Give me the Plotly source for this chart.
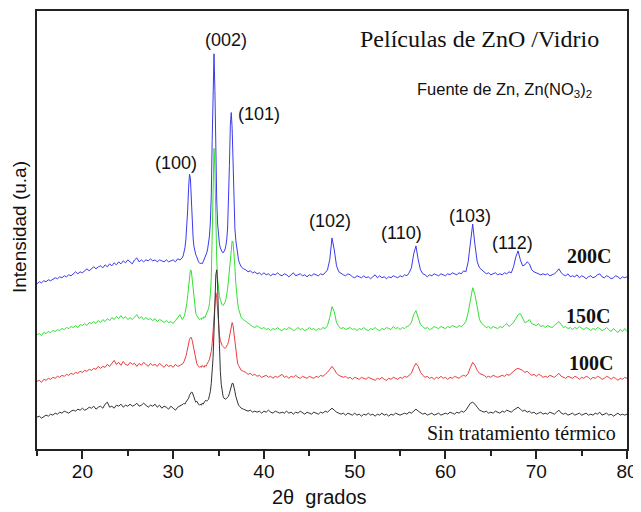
import numpy as np
import plotly.graph_objects as go

# x grid (2-theta, degrees): coarse / fine (main peaks) / coarse
x_a = [round(15 + 0.25 * i, 2) for i in range(65)]
x_b = [round(31.1 + 0.1 * i, 2) for i in range(65)]
x_c = [round(37.75 + 0.25 * i, 2) for i in range(170)]
two_theta = x_a + x_b + x_c

# Intensities (arbitrary units, stacked)
black_a = [32,33,31,33, 34,33,35,34, 36,35,37,36, 38,37,36,38, 39,38,40,39, 41,39,40,42, 41,43,40,42, 43,41,45,47,
           42,43,41,44, 43,45,42,44, 43,45,43,44, 46,43,44,46, 44,42,44,43, 45,42,44,41, 43,42,40,43, 41,39,42,43, 44]
black_b = [45,46,45,47,48,49,51,54,56, 57,57,55,52,49,47,48,46,45,44, 45,44,46,45,47,48,49,48,49,50,
           54,58,66,76,92,118,150,175,180,165, 130,98,78,65,57,53,51,50,50,51, 52,53,56,60,64,66,66,63,58,53,
           49,46,44,43,42,41]
black_c = [40,
           39,38,39,37, 38,37,38,36, 38,37,39,37, 36,38,37,36, 37,36,38,36, 37,35,37,36, 38,36,35,37, 36,35,37,36,
           35,37,36,38, 37,39,41,39, 37,36,35,36, 34,36,35,34, 36,34,35,33, 35,34,36,34, 35,33,35,34, 36,34,35,33,
           35,34,36,35, 34,35,36,35, 37,36,38,40, 38,36,35,36, 34,35,36,34, 35,36,34,35, 36,35,37,36, 35,37,36,38,
           37,39,42,46, 47,45,42,39, 38,37,38,36, 37,36,38,37, 36,38,37,39, 38,37,39,41, 42,40,38,39, 37,38,36,37,
           35,36,37,35, 36,35,37,36, 35,37,39,36, 35,36,34,35, 36,34,35,36, 34,35,36,34, 35,34,36,35, 37,34,35,36,
           34,35,33,35, 36,34,35,34,
           35]

red_a = [68,69,67,70, 69,71,70,72, 71,73,72,74, 73,75,74,76, 75,77,76,78, 77,79,78,80, 79,81,80,83, 81,83,82,85,
         83,86,89,85, 87,84,88,85, 84,87,85,86, 83,86,84,87, 85,83,86,84, 85,83,86,84, 82,85,83,84, 82,85,83,84, 85]
red_b = [86,88,90,93,97,102,107,110,112, 112,109,104,98,93,89,86,84,83,82, 83,82,84,83,82,84,83,85,86,88,
         90,93,98,106,118,135,150,157,152,138, 124,114,109,106,104,103,102,101,102,103,
         105,108,113,120,126,127,124,116,106,97, 90,86,84,82,80,79]
red_c = [78,
         77,75,76,74, 75,73,74,72, 73,74,72,73, 71,73,72,74, 75,72,73,71, 73,72,74,72, 71,73,72,71, 73,72,71,73,
         72,74,73,75, 77,80,83,80, 76,74,73,72, 73,71,72,70, 72,71,70,72, 71,70,72,71, 70,69,71,70, 72,70,69,71,
         70,72,71,70, 72,71,73,72, 74,76,82,86, 83,77,74,72, 73,71,72,70, 72,71,73,71, 72,70,72,71, 73,72,71,73,
         74,73,76,82, 87,84,79,76, 75,74,72,73, 72,74,73,72, 73,74,73,75, 74,76,78,80, 81,80,79,77, 78,76,74,75,
         73,75,74,72, 73,72,74,73, 72,74,76,73, 72,71,73,72, 71,73,72,70, 72,71,73,72, 70,72,71,73, 72,70,71,73,
         72,70,72,71, 69,71,70,72,
         71]

green_a = [115,116,114,117, 116,118,117,119, 118,120,119,121, 120,122,121,123, 122,124,122,125, 124,126,124,127,
           126,128,126,129, 127,130,128,131, 129,132,130,133, 131,134,131,133, 130,132,130,133, 135,131,133,130,
           132,130,131,129, 131,128,130,129, 127,129,127,128, 126,129,132,135, 130]
green_b = [131,133,136,140,146,154,165,175,180, 179,170,157,147,140,136,134,132,131,130,
           131,130,132,131,133,132,134,136,138,141, 146,155,172,210,265,302,280,225,190,170,
           160,154,150,147,145,144,145,147,150,155, 161,170,182,195,205,209,208,198,183,167,
           155,147,141,137,134,132]
green_c = [130,
           128,126,124,123, 122,124,122,121, 122,120,121,119, 121,120,122,120, 119,121,120,122, 121,119,120,122,
           120,121,119,120, 122,120,121,119, 121,120,122,121, 124,132,143,138, 127,123,121,122, 120,121,122,120,
           121,119,121,120, 122,120,119,121, 120,122,120,119, 121,120,122,121, 120,123,121,122, 120,122,121,123,
           124,127,135,139, 132,125,123,121, 122,120,121,123, 122,121,123,122, 121,123,122,124, 123,122,124,123,
           125,128,137,152, 162,155,140,130, 126,124,122,123, 121,123,122,121, 123,122,124,126, 123,125,127,131,
           135,136,131,127, 128,130,126,125, 124,126,123,124, 122,124,123,122, 124,126,128,125, 122,123,121,122,
           120,122,121,123, 121,120,122,121, 119,121,120,122, 121,119,120,122, 120,118,121,119, 117,120,118,121,
           118]

blue_a = [166,168,167,169, 168,170,169,171, 172,171,173,172, 174,173,175,174, 176,178,176,178, 177,179,181,179,
          181,183,181,183, 184,182,185,183, 186,184,187,185, 188,186,189,187, 190,188,186,190, 192,188,190,188,
          190,189,191,189, 190,188,190,189, 188,190,188,189, 190,188,191,190, 192]
blue_b = [194,197,202,210,222,240,262,276,272, 250,228,212,203,198,195,193,190,188,187,
          186,187,186,188,190,192,194,197,201,206, 214,228,255,310,375,397,360,295,250,226,
          213,206,202,199,198,197,198,200,204,210, 222,245,285,325,338,322,280,243,222,210,
          201,195,190,187,185,183]
blue_c = [181,
          180,178,179,177, 178,176,177,175, 177,175,176,174, 176,175,177,175, 174,176,175,173, 175,177,174,175,
          176,174,175,173, 175,174,176,175, 174,176,175,177, 180,190,212,200, 184,178,176,175, 174,176,175,173,
          172,174,173,172, 174,172,173,171, 173,175,172,174, 172,173,171,173, 172,174,173,172, 174,173,175,174,
          177,182,196,204, 190,180,176,175, 173,175,174,176, 175,174,176,175, 174,176,175,177, 176,175,177,176,
          179,178,188,210, 226,205,188,182, 180,178,176,177, 175,176,177,175, 176,175,177,176, 178,177,183,193,
          199,190,184,185, 188,186,180,178, 177,176,175,176, 175,176,174,175, 176,178,181,177, 175,174,176,173,
          174,173,175,172, 174,173,171,173, 174,172,173,175, 176,173,172,174, 173,171,172,174, 173,171,173,172,
          173]

series = [
    ("200C", blue_a + blue_b + blue_c, "#3a3aee"),
    ("150C", green_a + green_b + green_c, "#33e033"),
    ("100C", red_a + red_b + red_c, "#e83c3c"),
    ("Sin tratamiento", black_a + black_b + black_c, "#333333"),
]

fig = go.Figure()
for name, ys, col in series:
    assert len(ys) == len(two_theta), (name, len(ys))
    fig.add_trace(go.Scatter(x=two_theta, y=ys, mode="lines", name=name,
                             line=dict(color=col, width=1), showlegend=False))

sans = "Liberation Sans, Arial, sans-serif"
serif = "Liberation Serif, Times New Roman, serif"

peak_labels = [("(100)", 30.3, 287), ("(002)", 35.8, 411), ("(101)", 39.45, 337),
               ("(102)", 47.3, 229), ("(110)", 55.2, 217), ("(103)", 62.7, 234), ("(112)", 67.4, 207)]
ann = []
for t, xx, yy in peak_labels:
    ann.append(dict(x=xx, y=yy, xref="x", yref="y", text=t, showarrow=False,
                    font=dict(family=sans, size=18, color="#111")))

for t, xx, yy in [("200C", 75.8, 194), ("150C", 75.7, 134), ("100C", 76.0, 86)]:
    ann.append(dict(x=xx, y=yy, xref="x", yref="y", text="<b>" + t + "</b>", showarrow=False,
                    font=dict(family=serif, size=20, color="#111")))

ann.append(dict(x=68.4, y=16, xref="x", yref="y", text="Sin tratamiento térmico", showarrow=False,
                font=dict(family=serif, size=20, color="#111")))
ann.append(dict(x=63.8, y=412, xref="x", yref="y", text="Películas de ZnO /Vidrio", showarrow=False,
                font=dict(family=serif, size=24, color="#111")))
ann.append(dict(x=66.5, y=361, xref="x", yref="y", text="Fuente de Zn, Zn(NO<sub>3</sub>)<sub>2</sub>",
                showarrow=False, font=dict(family=sans, size=16.5, color="#111")))
# axis titles (positions relative to plot area: left 37, right 627, top 9, bottom 449 px)
ann.append(dict(x=(319 - 37) / 590, y=(449 - 497) / 440, xref="paper", yref="paper", text="2θ  grados",
                xanchor="center", yanchor="middle",
                showarrow=False, font=dict(family=sans, size=20, color="#111")))
ann.append(dict(x=(19 - 37) / 590, y=(449 - 226) / 440, xref="paper", yref="paper", text="Intensidad (u.a)",
                xanchor="center", yanchor="middle",
                textangle=-90, showarrow=False, font=dict(family=sans, size=19, color="#111")))

# page body has an 8px margin: the figure starts 8px in from the page corner
fig.update_layout(
    width=633, height=504,
    margin=dict(l=29, r=14, t=1, b=63),
    paper_bgcolor="white", plot_bgcolor="white",
    annotations=ann,
    xaxis=dict(range=[15, 80], dtick=10, tick0=0, ticks="outside", ticklen=8, tickwidth=1.5,
               tickcolor="#222", showline=True, linecolor="#222", linewidth=1.5, mirror=True,
               showgrid=False, zeroline=False, ticklabelstandoff=-4,
               tickfont=dict(family=sans, size=19, color="#111"),
               minor=dict(dtick=5, tick0=0, ticks="outside", ticklen=5, tickwidth=1.5, tickcolor="#222")),
    yaxis=dict(range=[0, 440], showticklabels=False, ticks="", showline=True, linecolor="#222",
               linewidth=1.5, mirror=True, showgrid=False, zeroline=False),
)
fig.write_html("out.html")
